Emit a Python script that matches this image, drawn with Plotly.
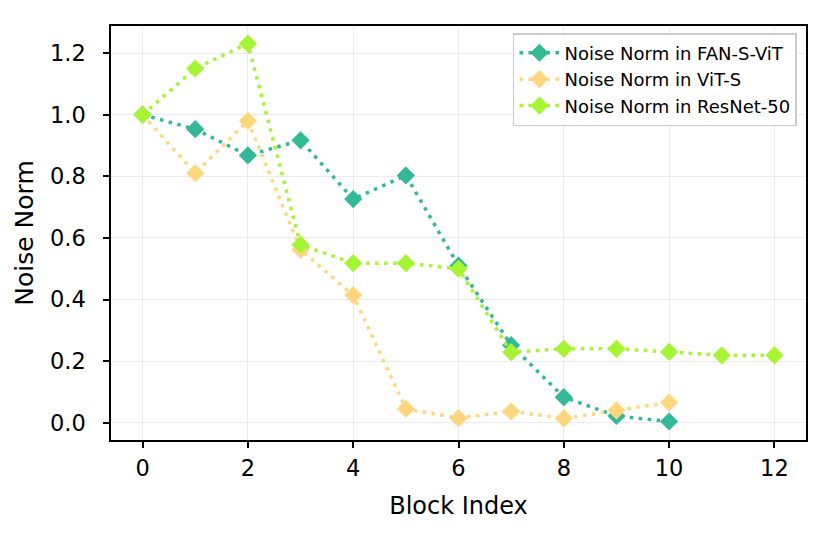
import plotly.graph_objects as go

block_fan = [0, 1, 2, 3, 4, 5, 6, 7, 8, 9, 10]
fan_vals = [1.0, 0.953, 0.868, 0.917, 0.726, 0.803, 0.51, 0.252, 0.083, 0.022, 0.004]

block_vit = [0, 1, 2, 3, 4, 5, 6, 7, 8, 9, 10]
vit_vals = [1.0, 0.81, 0.98, 0.562, 0.414, 0.045, 0.015, 0.037, 0.014, 0.04, 0.066]

block_res = [0, 1, 2, 3, 4, 5, 6, 7, 8, 9, 10, 11, 12]
res_vals = [1.0, 1.15, 1.231, 0.578, 0.518, 0.518, 0.5, 0.229, 0.24, 0.24, 0.23, 0.219, 0.219]

series = [
    ("Noise Norm in FAN-S-ViT", block_fan, fan_vals, "#33b995"),
    ("Noise Norm in ViT-S", block_vit, vit_vals, "#fdd780"),
    ("Noise Norm in ResNet-50", block_res, res_vals, "#a6f534"),
]

fig = go.Figure()
for name, xs, ys, color in series:
    fig.add_trace(go.Scatter(
        x=xs, y=ys, name=name, mode="lines+markers",
        line=dict(color=color, width=3.5, dash="3.5px,5.5px"),
        marker=dict(symbol="diamond", size=14, color=color),
    ))

axis_common = dict(
    showline=True, linecolor="black", linewidth=1.5, mirror=True,
    ticks="outside", ticklen=6, tickwidth=1.5, tickcolor="black",
    showgrid=True, gridcolor="#ebebeb", gridwidth=1.3, zeroline=False,
    tickfont=dict(family="DejaVu Sans", size=22.5, color="black"),
    automargin=False,
)

fig.update_layout(
    width=832, height=534,
    margin=dict(l=103, r=34, t=18, b=102),
    paper_bgcolor="white", plot_bgcolor="white",
    font=dict(family="DejaVu Sans", color="black"),
    xaxis=dict(range=[-0.6, 12.6], tickvals=[0, 2, 4, 6, 8, 10, 12],
               ticklabelstandoff=1,
               title=dict(text="Block Index", font=dict(size=24), standoff=17),
               **axis_common),
    yaxis=dict(range=[-0.056, 1.288], tickvals=[0, 0.2, 0.4, 0.6, 0.8, 1.0, 1.2],
               tickformat=".1f", ticklabelstandoff=13,
               title=dict(text="Noise Norm", font=dict(size=25), standoff=9),
               **axis_common),
    legend=dict(x=0.987, y=0.983, xanchor="right", yanchor="top",
                bgcolor="rgba(255,255,255,0.9)", bordercolor="#cccccc", borderwidth=1.5,
                font=dict(size=18, family="DejaVu Sans", color="black"),
                itemwidth=40, tracegroupgap=0),
    showlegend=True,
)

fig.write_html("out.html")
